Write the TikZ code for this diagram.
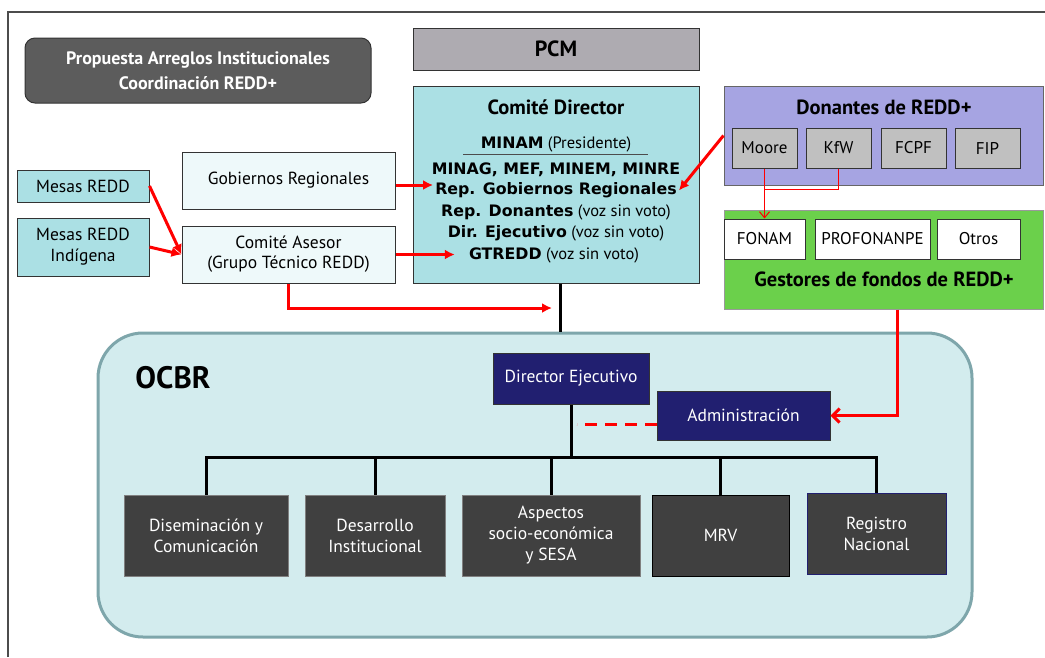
\documentclass[tikz,border=0pt]{standalone}
\usepackage{fontspec}
\setmainfont{PT Sans}
\newfontfamily\dejavu{DejaVu Sans}
\usetikzlibrary{arrows.meta}

\definecolor{titlegray}{HTML}{5C5C5C}
\definecolor{pcmgray}{HTML}{AEABB1}
\definecolor{cdteal}{HTML}{ABE0E4}
\definecolor{paleteal}{HTML}{EEF9FA}
\definecolor{lavender}{HTML}{A6A4E2}
\definecolor{donorgray}{HTML}{C0C0C0}
\definecolor{fundgreen}{HTML}{6BD04B}
\definecolor{ocbrfill}{HTML}{D3ECEE}
\definecolor{ocbrline}{HTML}{7EA6AB}
\definecolor{navy}{HTML}{211F70}
\definecolor{unitgray}{HTML}{404040}

\newcommand{\orgname}[1]{{\dejavu\bfseries\fontsize{15.8}{18}\selectfont #1}}

\begin{document}
\begin{tikzpicture}[x=1pt, y=-1pt,
  box/.style={draw=black!80, line width=1pt, align=center, inner sep=0pt, font=\fontsize{17.5}{21}\selectfont},
  donor/.style={box, fill=donorgray, minimum width=65pt, minimum height=40pt, font=\fontsize{17}{19}\selectfont},
  fund/.style={box, fill=white, minimum height=40pt, font=\fontsize{17}{19}\selectfont},
  unit/.style={box, fill=unitgray, draw=gray, text=white, minimum height=81pt},
  navybox/.style={box, fill=navy, text=white, font=\fontsize{17.5}{20}\selectfont},
  member/.style={inner sep=2pt, font=\fontsize{16.5}{19}\selectfont},
  heading/.style={font=\bfseries\fontsize{20.5}{24}\selectfont},
  redarrow/.style={red, line width=3pt, -{Latex[length=10pt,width=10pt]}},
  link/.style={line width=3pt}]

\useasboundingbox (0,0) rectangle (1045,657);

% Frame
\draw[line width=1.5pt, black!70] (8,657) -- (8,12) -- (1045,12);

% Title
\node[box, rounded corners=10pt, fill=titlegray, text=white, minimum width=346pt, minimum height=65pt,
  font=\bfseries\fontsize{18}{25}\selectfont] (title) at (198,70.5) {Propuesta Arreglos Institucionales\\ Coordinación REDD+};

% PCM and Comite Director
\node[box, fill=pcmgray, minimum width=286pt, minimum height=42pt, font=\bfseries\fontsize{22}{24}\selectfont] (pcm) at (556,49) {PCM};
\node[box, fill=cdteal, minimum width=286pt, minimum height=197pt] (cd) at (556,184.5) {};
\node[heading] (cdtitle) at (556,107) {Comité Director};
\node[member] (minam) at (556,144) {\orgname{MINAM} (Presidente)};
\draw[line width=1pt, black!70] (463,154) -- (648,154);
\node[member] (minag) at (556,170) {\orgname{MINAG, MEF, MINEM, MINRE}};
\node[member] (repgob) at (556,190.5) {\orgname{Rep. Gobiernos Regionales}};
\node[member] (repdon) at (556,212.5) {\orgname{Rep. Donantes} (voz sin voto)};
\node[member] (direj) at (556,233.5) {\orgname{Dir. Ejecutivo} (voz sin voto)};
\node[member] (gtredd) at (554,255.5) {\orgname{GTREDD} (voz sin voto)};

% Donantes
\node[box, draw=black!60, fill=lavender, minimum width=319pt, minimum height=99pt] (donantes) at (883.5,135.5) {};
\node[heading] (dontitle) at (884,107) {Donantes de REDD+};
\node[donor] (moore) at (764.5,148) {Moore};
\node[donor] (kfw) at (838.5,148) {KfW};
\node[donor] (fcpf) at (913.5,148) {FCPF};
\node[donor] (fip) at (987.5,148) {FIP};

% Gestores de fondos
\node[box, draw=black!40, fill=fundgreen, minimum width=319pt, minimum height=99pt] (gestores) at (883.5,259.5) {};
\node[fund, minimum width=81pt] (fonam) at (764.5,239) {FONAM};
\node[fund, minimum width=115pt] (profonanpe) at (872.5,239) {PROFONANPE};
\node[fund, minimum width=83pt] (otros) at (978.5,239) {Otros};
\node[heading] (gestitle) at (884,279) {Gestores de fondos de REDD+};

% Left side
\node[box, fill=cdteal, minimum width=132pt, minimum height=32pt] (mesas) at (83,186) {Mesas REDD};
\node[box, fill=cdteal, minimum width=132pt, minimum height=58pt] (mesasind) at (83,247) {Mesas REDD\\ Indígena};
\node[box, fill=paleteal, minimum width=213pt, minimum height=57pt] (gobreg) at (288.5,180.5) {Gobiernos Regionales};
\node[box, fill=paleteal, minimum width=213pt, minimum height=57pt, font=\fontsize{17.5}{20}\selectfont] (asesor) at (288.5,254.5) {Comité Asesor\\ (Grupo Técnico REDD)};
\coordinate (cdlink) at (560,308);

% OCBR
\node[draw=ocbrline, line width=3pt, fill=ocbrfill, rounded corners=45pt, minimum width=874pt, minimum height=304pt] (ocbr) at (535,485) {};
\node[font=\bfseries\fontsize{31}{34}\selectfont] (ocbrlabel) at (173,378) {OCBR};
\node[navybox, minimum width=156pt, minimum height=51pt] (director) at (571,378.5) {Director Ejecutivo};
\node[navybox, minimum width=173pt, minimum height=49pt] (admin) at (743.5,415.5) {Administración};

% Units
\node[unit, minimum width=164pt] (dis) at (206,535.5) {Diseminación y\\ Comunicación};
\node[unit, minimum width=140pt] (des) at (375,535.5) {Desarrollo\\ Institucional};
\node[unit, minimum width=178pt] (asp) at (551,535.5) {Aspectos\\ socio-económica\\ y SESA};
\node[unit, draw=black, minimum width=137pt] (mrv) at (720.5,535.5) {MRV};
\node[unit, draw=navy, minimum width=139pt] (reg) at (876.5,533.5) {Registro\\ Nacional};
\coordinate (hub) at (571,457);

% Black links
\draw[link] ([xshift=4pt]cd.south) -- ([xshift=4pt]cd.south |- ocbr.north);
\draw[link] (director.south) -- (hub);
\foreach \u in {dis,des,asp,mrv,reg}
  \draw[link] (hub) -| (\u.north);

% Red arrows
\draw[redarrow] (mesas.east) -- (asesor.west);
\draw[redarrow] (mesasind.east) -- (asesor.west);
\draw[redarrow] ([yshift=-4.5pt]gobreg.east) -- ([yshift=-4.5pt]gobreg.east -| repgob.west);
\draw[redarrow, shorten >=12pt] (asesor.east) -- (asesor.east -| gtredd.west);
\draw[redarrow, shorten >=8pt] (asesor.south) |- (cdlink);
\draw[redarrow] (donantes.west) -- (repgob.east);
\draw[red, line width=1pt, -{Straight Barb[length=6pt,width=10pt]}] (moore) -- (fonam);
\draw[red, line width=1pt] (kfw.south) -- ++(0,21) -| (moore.south);
\draw[red, line width=3pt, -{Straight Barb[length=7pt,width=14pt]}] ([xshift=13.5pt]gestores.south) |- (admin.east);
\draw[red, line width=3pt, dash pattern=on 12pt off 8pt] ([yshift=-8.5pt]admin.west) -- ++(-80,0);

\end{tikzpicture}
\end{document}
